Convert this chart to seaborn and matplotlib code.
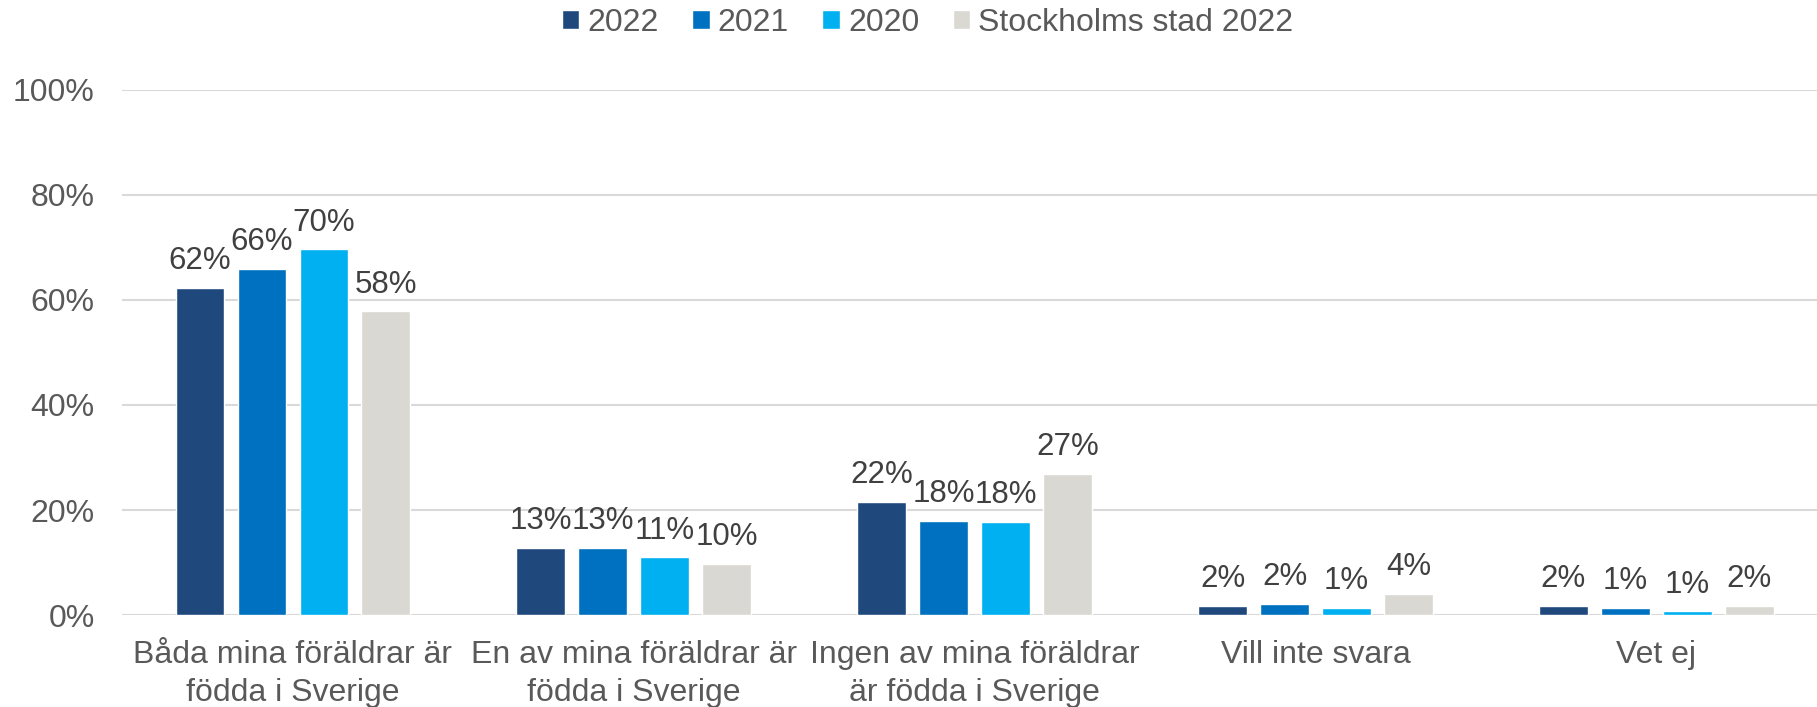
import numpy as np
import pandas as pd
import matplotlib.pyplot as plt
import seaborn as sns

sns.set_theme(style="white")
plt.rcParams["font.family"] = ["Liberation Sans", "DejaVu Sans"]

# Data
kategorier = [
    "Båda mina föräldrar är\nfödda i Sverige",
    "En av mina föräldrar är\nfödda i Sverige",
    "Ingen av mina föräldrar\när födda i Sverige",
    "Vill inte svara",
    "Vet ej",
]
serier = ["2022", "2021", "2020", "Stockholms stad 2022"]
v2022 = [62.3, 12.8, 21.6, 1.8, 1.8]
v2021 = [65.9, 12.8, 17.9, 2.2, 1.3]
v2020 = [69.6, 11.0, 17.7, 1.3, 0.7]
vsthlm = [57.8, 9.7, 26.9, 4.0, 1.8]
yticks = [0, 20, 40, 60, 80, 100]

farger = ["#1F497D", "#0070C0", "#00B0F0", "#DAD8D2"]

df = pd.DataFrame({
    "kategori": kategorier * 4,
    "serie": np.repeat(serier, len(kategorier)),
    "andel": v2022 + v2021 + v2020 + vsthlm,
})

fig = plt.figure(figsize=(18.17, 7.07), dpi=100)
ax = fig.add_axes([0.0674, 0.130, 0.938, 0.743])

sns.barplot(data=df, x="kategori", y="andel", hue="serie", order=kategorier,
            hue_order=serier, palette=farger, width=0.727, gap=0.214,
            saturation=1, errorbar=None, legend=True, ax=ax)

for c in ax.containers:
    ax.bar_label(c, fmt="{:.0f}%", padding=8.5, fontsize=22.5, color="#404040")

ax.set_ylim(0, 100)
ax.set_xlim(-0.5, 4.5)
ax.set_yticks(yticks)
ax.set_yticklabels([f"{t}%" for t in yticks])
ax.yaxis.grid(True, color="#D9D9D9", linewidth=1.5)
ax.set_axisbelow(True)
for s in ax.spines.values():
    s.set_visible(False)
ax.tick_params(axis="both", length=0, labelsize=23, labelcolor="#595959")
ax.tick_params(axis="x", pad=18)
ax.tick_params(axis="y", pad=20)
for t in ax.get_xticklabels():
    t.set_linespacing(1.33)
ax.set_xlabel("")
ax.set_ylabel("")

h, l = ax.get_legend_handles_labels()
ax.get_legend().remove()
fig.legend(h, l, loc="center", bbox_to_anchor=(0.5105, 0.968), ncol=4,
           frameon=False, fontsize=23, labelcolor="#595959",
           handlelength=0.55, handleheight=0.55, handletextpad=0.25,
           columnspacing=1.05)

plt.savefig("out.png", dpi=100)
